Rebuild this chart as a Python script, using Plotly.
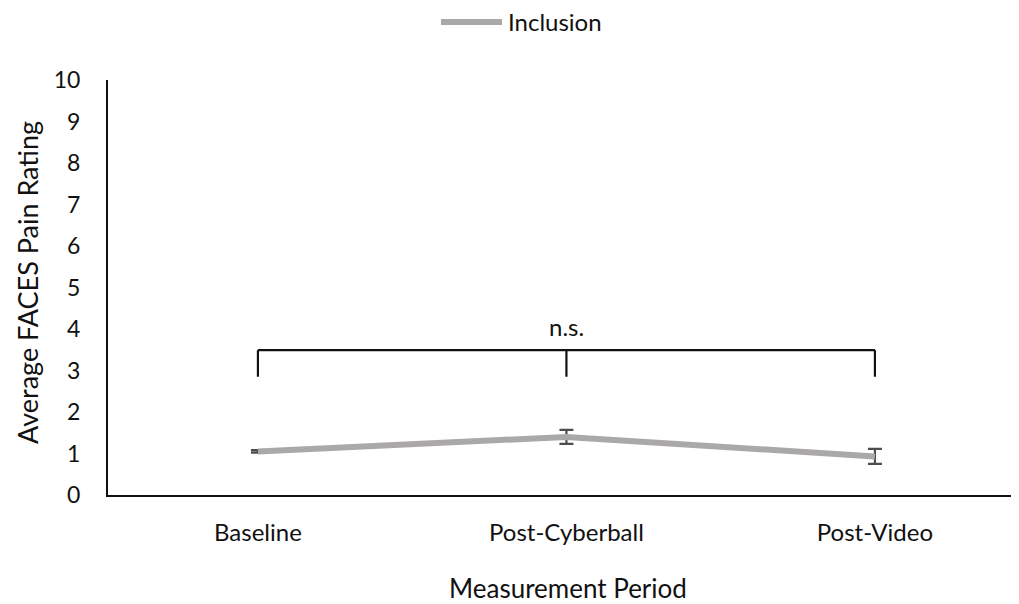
import plotly.graph_objects as go

categories = ["Baseline", "Post-Cyberball", "Post-Video"]
inclusion_mean = [1.05, 1.40, 0.93]
inclusion_err = [0.03, 0.17, 0.18]
y_ticks = list(range(0, 11))

bracket_y = 3.49
bracket_foot = 2.85
sig_label = "n.s."
series_name = "Inclusion"
x_title = "Measurement Period"
y_title = "Average FACES Pain Rating"

FONT = "Lato, Open Sans, sans-serif"
LINE_COLOR = "#ABA8A8"

fig = go.Figure()
fig.add_trace(go.Scatter(
    x=categories, y=inclusion_mean, name=series_name, mode="lines",
    line=dict(color=LINE_COLOR, width=6), showlegend=False,
    error_y=dict(type="data", array=inclusion_err, visible=True,
                 color="#4d4d4d", thickness=2.2, width=7),
))

# significance bracket
fig.add_shape(type="line", xref="x", yref="y", x0=categories[0], x1=categories[2],
              y0=bracket_y, y1=bracket_y, line=dict(color="#111111", width=2.2))
for c in categories:
    fig.add_shape(type="line", xref="x", yref="y", x0=c, x1=c,
                  y0=bracket_y, y1=bracket_foot, line=dict(color="#111111", width=2.2))
fig.add_annotation(x=categories[1], y=4.05, xref="x", yref="y", text=sig_label,
                   showarrow=False, font=dict(size=24, color="#111111", family=FONT))

# legend (drawn in the top margin)
fig.add_shape(type="line", xref="paper", yref="paper", x0=0.3655, x1=0.4325,
              y0=1.1398, y1=1.1398, line=dict(color=LINE_COLOR, width=6))
fig.add_annotation(x=0.4369, y=1.1398, xref="paper", yref="paper", text=series_name,
                   xanchor="left", yanchor="middle", showarrow=False,
                   font=dict(size=24, color="#111111", family=FONT))

# axis titles
fig.add_annotation(x=-0.0878, y=0.511, xref="paper", yref="paper", text=y_title,
                   textangle=-90, showarrow=False, xanchor="center", yanchor="middle",
                   font=dict(size=27, color="#111111", family=FONT))
fig.add_annotation(x=0.505, y=-0.223, xref="paper", yref="paper", text=x_title,
                   showarrow=False, xanchor="center", yanchor="middle",
                   font=dict(size=26, color="#111111", family=FONT))

fig.update_layout(
    width=1011, height=596,
    margin=dict(l=100, r=0, t=72, b=109, autoexpand=False),
    paper_bgcolor="white", plot_bgcolor="white",
    font=dict(family=FONT, color="#111111"),
    showlegend=False,
    xaxis=dict(type="category", range=[-0.486, 2.467], showline=True, linecolor="#111111",
               linewidth=2, ticks="", showgrid=False, zeroline=False, automargin=False,
               tickfont=dict(size=24), ticklabelstandoff=15),
    yaxis=dict(range=[0, 10], tickvals=y_ticks, showline=True, linecolor="#111111",
               linewidth=2, ticks="", showgrid=False, zeroline=False, automargin=False,
               tickfont=dict(size=23), ticklabelstandoff=21),
)

fig.write_html("out.html")
